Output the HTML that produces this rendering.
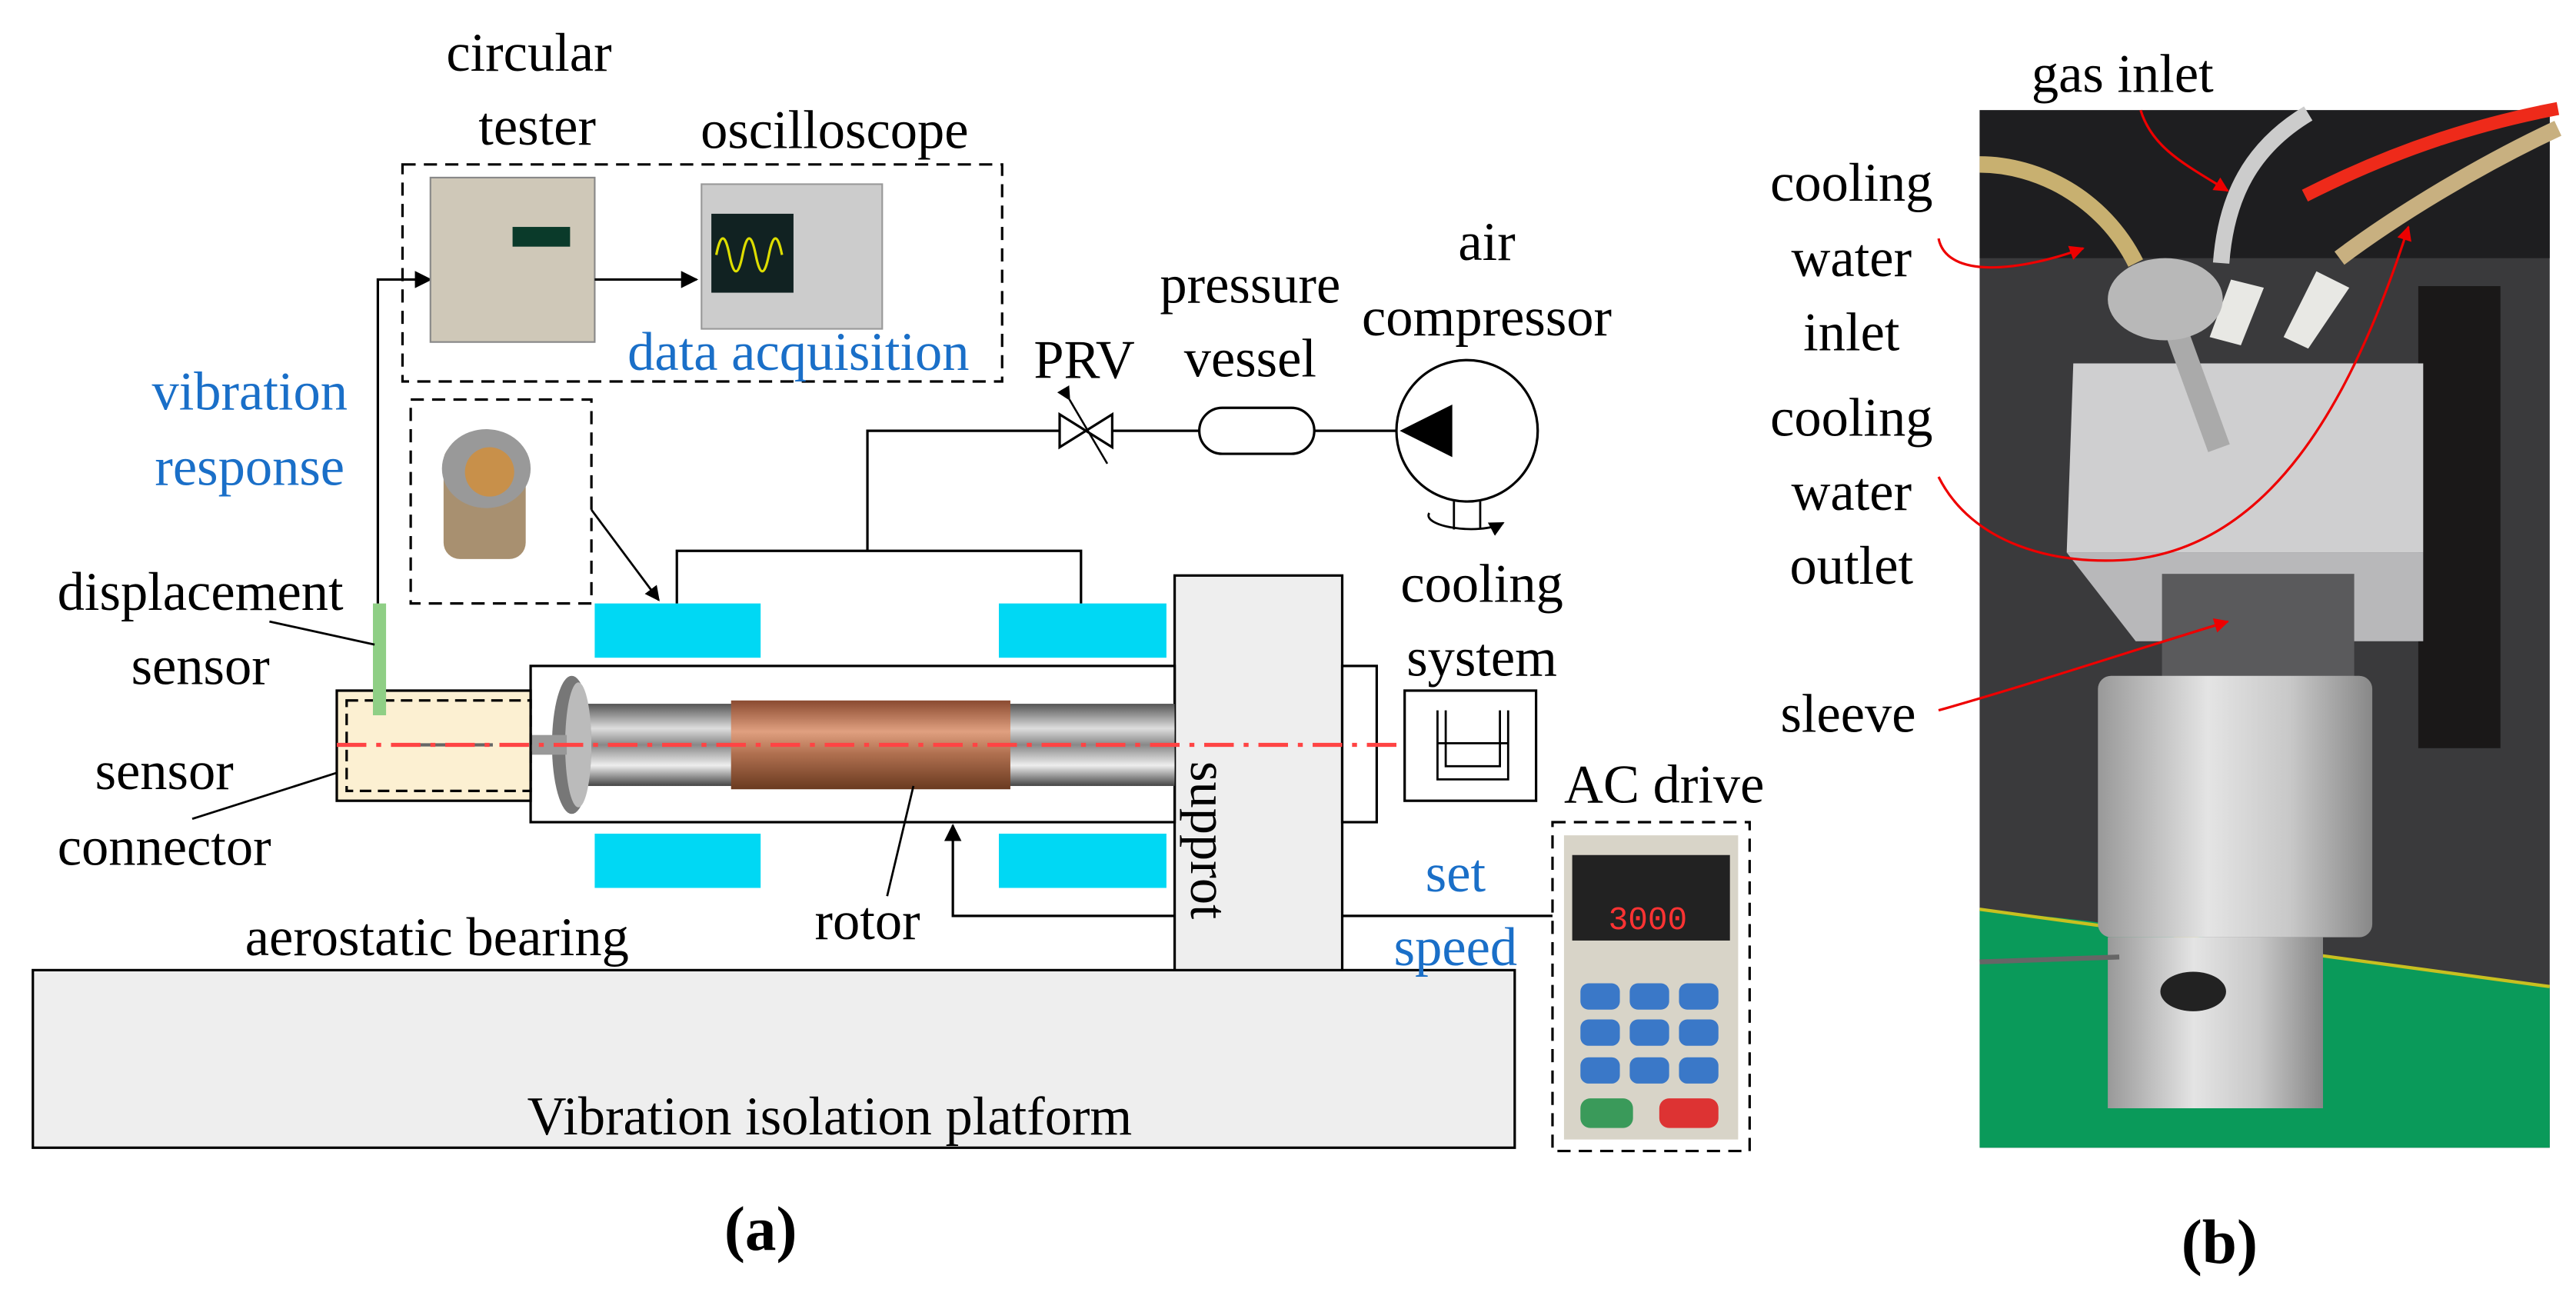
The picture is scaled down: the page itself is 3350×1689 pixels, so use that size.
<!DOCTYPE html>
<html><head><meta charset="utf-8"><style>html,body{margin:0;padding:0;background:#fff}svg{display:block}</style></head>
<body>
<svg width="3350" height="1689" viewBox="0 0 1568 790" preserveAspectRatio="none" xmlns="http://www.w3.org/2000/svg" font-family="Liberation Serif, serif">
<defs>
<marker id="ah" viewBox="0 0 10 10" refX="9" refY="5" markerWidth="7" markerHeight="7" orient="auto"><path d="M0,0L10,5L0,10z" fill="#000"/></marker>
<marker id="ar" viewBox="0 0 10 10" refX="9" refY="5" markerWidth="6" markerHeight="6" orient="auto"><path d="M0,0L10,5L0,10z" fill="#e00"/></marker>
<linearGradient id="rod" x1="0" y1="0" x2="0" y2="1"><stop offset="0" stop-color="#555"/><stop offset=".3" stop-color="#ddd"/><stop offset=".5" stop-color="#888"/><stop offset=".75" stop-color="#eee"/><stop offset="1" stop-color="#444"/></linearGradient>
<linearGradient id="cu" x1="0" y1="0" x2="0" y2="1"><stop offset="0" stop-color="#8a4a30"/><stop offset=".35" stop-color="#e0a080"/><stop offset=".6" stop-color="#b07050"/><stop offset="1" stop-color="#6a3a20"/></linearGradient>
<linearGradient id="al" x1="0" y1="0" x2="1" y2="0"><stop offset="0" stop-color="#999"/><stop offset=".4" stop-color="#e4e4e4"/><stop offset=".7" stop-color="#c8c8c8"/><stop offset="1" stop-color="#888"/></linearGradient>
</defs>
<g font-size="33" fill="#000">
<rect x="20" y="590" width="902" height="108" fill="#eee" stroke="#000" stroke-width="1.5"/>
<text x="505" y="690" text-anchor="middle">Vibration isolation platform</text>
<rect x="715" y="350" width="102" height="240" fill="#eee" stroke="#000" stroke-width="1.5"/>
<text transform="translate(725,463) rotate(90)" font-size="32">supprot</text>
<rect x="817" y="405" width="21" height="95" fill="#fff" stroke="#000" stroke-width="1.5"/>
<rect x="323" y="405" width="392" height="95" fill="#fff" stroke="#000" stroke-width="1.5"/>
<rect x="340" y="428" width="375" height="50" fill="url(#rod)"/>
<rect x="445" y="426" width="170" height="54" fill="url(#cu)"/>
<ellipse cx="348" cy="453" rx="12" ry="42" fill="#777"/>
<ellipse cx="352" cy="453" rx="8" ry="38" fill="#bbb"/>
<rect x="300" y="447" width="45" height="12" fill="#999"/>
<rect x="205" y="420" width="118" height="67" fill="#fcf0d2" stroke="#000" stroke-width="1.5"/>
<rect x="211" y="426" width="112" height="55" fill="none" stroke="#000" stroke-width="1.5" stroke-dasharray="7,4"/>
<rect x="227" y="367" width="8" height="68" fill="#8fcf85"/>
<line x1="238" y1="453" x2="300" y2="453" stroke="#666" stroke-width="2"/>
<line x1="205" y1="453" x2="855" y2="453" stroke="#f44" stroke-width="2.5" stroke-dasharray="18,6,3,6"/>
<rect x="362" y="367" width="101" height="33" fill="#00d8f4"/>
<rect x="608" y="367" width="102" height="33" fill="#00d8f4"/>
<rect x="362" y="507" width="101" height="33" fill="#00d8f4"/>
<rect x="608" y="507" width="102" height="33" fill="#00d8f4"/>
<polyline points="412,367 412,335 658,335 658,367" fill="none" stroke="#000" stroke-width="1.5"/>
<polyline points="528,335 528,262 645,262" fill="none" stroke="#000" stroke-width="1.5"/>
<path d="M645,252 L645,272 L677,252 L677,272 Z" fill="#fff" stroke="#000" stroke-width="1.5"/>
<line x1="651" y1="243" x2="674" y2="282" stroke="#000" stroke-width="1.2" marker-start="url(#ah)"/>
<line x1="677" y1="262" x2="730" y2="262" stroke="#000" stroke-width="1.5"/>
<rect x="730" y="248" width="70" height="28" rx="14" fill="#fff" stroke="#000" stroke-width="1.5"/>
<line x1="800" y1="262" x2="850" y2="262" stroke="#000" stroke-width="1.5"/>
<circle cx="893" cy="262" r="43" fill="#fff" stroke="#000" stroke-width="1.5"/>
<path d="M852,262 L884,246 L884,278 Z" fill="#000"/>
<path d="M870,312 C865,320 900,326 915,318" fill="none" stroke="#000" stroke-width="1.3" marker-end="url(#ah)"/>
<line x1="885" y1="305" x2="885" y2="322" stroke="#000" stroke-width="1.3"/>
<line x1="901" y1="305" x2="901" y2="322" stroke="#000" stroke-width="1.3"/>
<rect x="855" y="420" width="80" height="67" fill="#fff" stroke="#000" stroke-width="1.5"/>
<path d="M875,432 V474 H918 V432 M880,432 V466 H913 V432 M875,452 H918" fill="none" stroke="#000" stroke-width="1.3"/>
<polyline points="715,557 580,557 580,502" fill="none" stroke="#000" stroke-width="1.5" marker-end="url(#ah)"/>
<line x1="817" y1="557" x2="945" y2="557" stroke="#000" stroke-width="1.5"/>
<line x1="540" y1="545" x2="556" y2="478" stroke="#000" stroke-width="1.3"/>
<line x1="164" y1="378" x2="228" y2="392" stroke="#000" stroke-width="1.3"/>
<line x1="117" y1="498" x2="205" y2="470" stroke="#000" stroke-width="1.3"/>
<polyline points="230,367 230,170 262,170" fill="none" stroke="#000" stroke-width="1.5" marker-end="url(#ah)"/>
<rect x="245" y="100" width="365" height="132" fill="none" stroke="#000" stroke-width="1.5" stroke-dasharray="8,5"/>
<rect x="262" y="108" width="100" height="100" fill="#cfc8b8" stroke="#888"/>
<rect x="312" y="138" width="35" height="12" fill="#0a3a2a"/>
<rect x="427" y="112" width="110" height="88" fill="#ccc" stroke="#999"/>
<rect x="433" y="130" width="50" height="48" fill="#122"/>
<path d="M436,155 q4,-20 8,0 t8,0 t8,0 t8,0 t8,0" fill="none" stroke="#dd0" stroke-width="1.5"/>
<line x1="362" y1="170" x2="424" y2="170" stroke="#000" stroke-width="1.5" marker-end="url(#ah)"/>
<text x="486" y="225" fill="#1a6fc8" text-anchor="middle">data acquisition</text>
<rect x="250" y="243" width="110" height="124" fill="none" stroke="#000" stroke-width="1.5" stroke-dasharray="8,5"/>
<rect x="270" y="270" width="50" height="70" rx="10" fill="#a89070"/>
<ellipse cx="296" cy="285" rx="27" ry="24" fill="#999"/>
<ellipse cx="298" cy="287" rx="15" ry="15" fill="#c8904a"/>
<line x1="360" y1="310" x2="401" y2="365" stroke="#000" stroke-width="1.3" marker-end="url(#ah)"/>
<rect x="945" y="500" width="120" height="200" fill="none" stroke="#000" stroke-width="1.5" stroke-dasharray="8,5"/>
<rect x="952" y="508" width="106" height="185" fill="#d8d4c8"/>
<rect x="957" y="520" width="96" height="52" fill="#222"/>
<text x="1003" y="565" fill="#f33" font-family="Liberation Mono, monospace" font-size="20" text-anchor="middle">3000</text>
<g fill="#3a78c8"><rect x="962" y="598" width="24" height="16" rx="5"/><rect x="992" y="598" width="24" height="16" rx="5"/><rect x="1022" y="598" width="24" height="16" rx="5"/><rect x="962" y="620" width="24" height="16" rx="5"/><rect x="992" y="620" width="24" height="16" rx="5"/><rect x="1022" y="620" width="24" height="16" rx="5"/><rect x="962" y="643" width="24" height="16" rx="5"/><rect x="992" y="643" width="24" height="16" rx="5"/><rect x="1022" y="643" width="24" height="16" rx="5"/></g>
<rect x="962" y="668" width="32" height="18" rx="6" fill="#3a9a5a"/><rect x="1010" y="668" width="36" height="18" rx="6" fill="#d33"/>
<text x="322" y="43" text-anchor="middle">circular</text>
<text x="327" y="88" text-anchor="middle">tester</text>
<text x="508" y="90" text-anchor="middle">oscilloscope</text>
<text x="152" y="249" fill="#1a6fc8" text-anchor="middle">vibration</text>
<text x="152" y="295" fill="#1a6fc8" text-anchor="middle">response</text>
<text x="122" y="371" text-anchor="middle">displacement</text>
<text x="122" y="416" text-anchor="middle">sensor</text>
<text x="100" y="480" text-anchor="middle">sensor</text>
<text x="100" y="526" text-anchor="middle">connector</text>
<text x="266" y="581" text-anchor="middle">aerostatic bearing</text>
<text x="528" y="571" text-anchor="middle">rotor</text>
<text x="660" y="230" text-anchor="middle">PRV</text>
<text x="761" y="184" text-anchor="middle">pressure</text>
<text x="761" y="229" text-anchor="middle">vessel</text>
<text x="905" y="158" text-anchor="middle">air</text>
<text x="905" y="204" text-anchor="middle">compressor</text>
<text x="902" y="366" text-anchor="middle">cooling</text>
<text x="902" y="411" text-anchor="middle">system</text>
<text x="1013" y="488" text-anchor="middle">AC drive</text>
<text x="886" y="542" fill="#1a6fc8" text-anchor="middle">set</text>
<text x="886" y="587" fill="#1a6fc8" text-anchor="middle">speed</text>
<text x="463" y="760" text-anchor="middle" font-weight="bold" font-size="38">(a)</text>
<text x="1351" y="768" text-anchor="middle" font-weight="bold" font-size="38">(b)</text>
<rect x="1205" y="67" width="347" height="631" fill="#3a3a3c"/>
<rect x="1205" y="67" width="347" height="90" fill="#1e1e20"/>
<path d="M1205,553 L1270,560 L1552,600 L1552,698 L1205,698 Z" fill="#0a9a5a"/>
<line x1="1205" y1="553" x2="1552" y2="600" stroke="#c8c020" stroke-width="2"/>
<rect x="1472" y="174" width="50" height="281" fill="#1a1818"/>
<path d="M1262,221 L1475,221 L1475,336 L1258,336 Z" fill="#cfcfd0"/>
<path d="M1258,336 L1475,336 L1475,390 L1300,390 Z" fill="#b8b8ba"/>
<rect x="1316" y="349" width="117" height="70" fill="#5a5a5c"/>
<rect x="1277" y="411" width="167" height="159" rx="8" fill="url(#al)"/>
<rect x="1283" y="570" width="131" height="104" fill="url(#al)"/>
<ellipse cx="1335" cy="603" rx="20" ry="12" fill="#222"/>
<line x1="1205" y1="585" x2="1290" y2="582" stroke="#666" stroke-width="3"/>
<path d="M1205,100 C1240,100 1280,120 1300,160" fill="none" stroke="#c8b070" stroke-width="10"/>
<path d="M1405,69 C1370,90 1355,120 1352,160" fill="none" stroke="#ccc" stroke-width="10"/>
<path d="M1403,119 C1460,90 1510,75 1557,66" fill="none" stroke="#ee2a1a" stroke-width="8"/>
<path d="M1424,157 C1460,130 1510,100 1557,78" fill="none" stroke="#c8b080" stroke-width="10"/>
<path d="M1358,170 L1345,205 L1364,210 L1378,175 Z" fill="#e8e8e4"/>
<path d="M1410,165 L1390,205 L1405,212 L1430,175 Z" fill="#e8e8e4"/>
<rect x="1330" y="195" width="14" height="80" transform="rotate(-20 1337 235)" fill="#aaa"/>
<ellipse cx="1318" cy="182" rx="35" ry="25" fill="#b8b8b8"/>
<text x="1292" y="56" text-anchor="middle">gas inlet</text>
<text x="1127" y="122" text-anchor="middle">cooling</text>
<text x="1127" y="168" text-anchor="middle">water</text>
<text x="1127" y="213" text-anchor="middle">inlet</text>
<text x="1127" y="265" text-anchor="middle">cooling</text>
<text x="1127" y="310" text-anchor="middle">water</text>
<text x="1127" y="355" text-anchor="middle">outlet</text>
<text x="1125" y="445" text-anchor="middle">sleeve</text>
<g fill="none" stroke="#e00" stroke-width="1.5">
<path d="M1303,67 C1310,90 1330,100 1356,116" marker-end="url(#ar)"/>
<path d="M1180,145 C1185,170 1230,165 1268,151" marker-end="url(#ar)"/>
<path d="M1180,290 C1200,330 1250,345 1300,340 C1380,330 1430,250 1466,138" marker-end="url(#ar)"/>
<path d="M1180,432 C1240,415 1300,395 1356,378" marker-end="url(#ar)"/>
</g>
</g>
</svg>
</body></html>
